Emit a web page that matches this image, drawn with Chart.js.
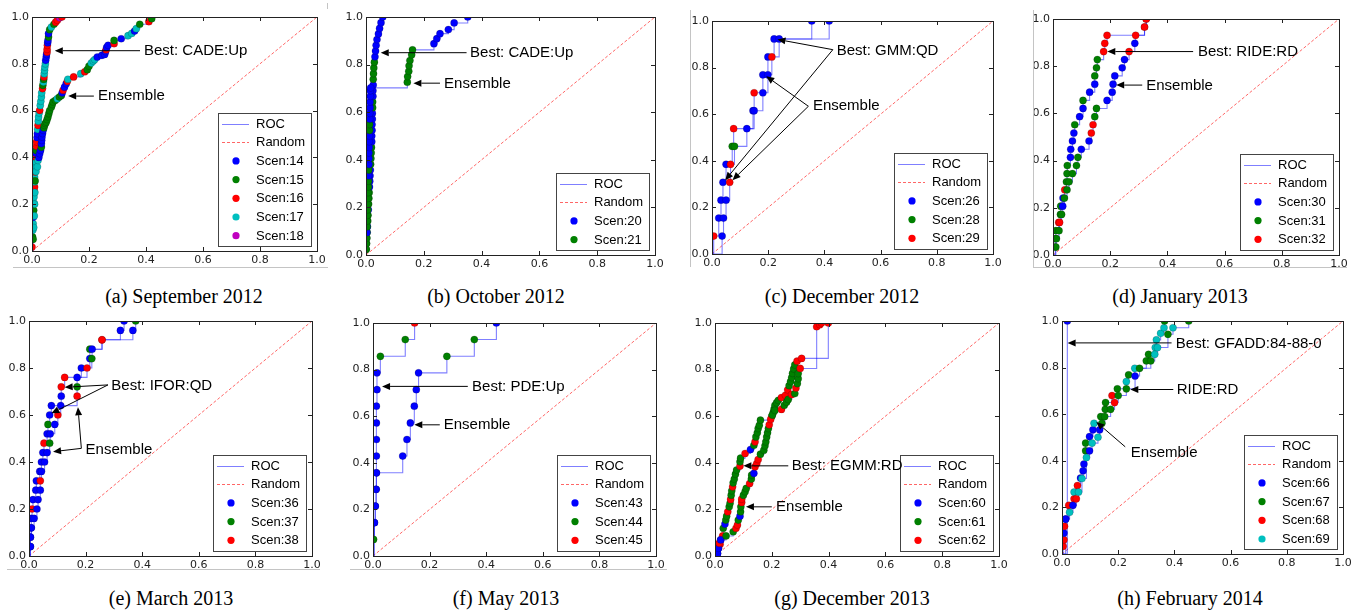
<!DOCTYPE html>
<html>
<head>
<meta charset="utf-8">
<script src="https://cdn.jsdelivr.net/npm/chart.js@4.4.1/dist/chart.umd.min.js"></script>
<style>
    body { margin: 0; background: #fff; }
    #page { position: relative; width: 1359px; height: 610px; overflow: hidden; background: #fff; }
    #page canvas { position: absolute; }
    .cap {
        position: absolute;
        font-family: 'Liberation Serif', 'Times New Roman', serif;
        font-size: 20px;
        color: #000;
        white-space: nowrap;
        transform: translate(-50%, -50%);
    }
    .edge { position: absolute; background: #c4c4c4; }
</style>
</head>
<body>
<div id="page"></div>
<script>
// each point: [false positive rate, true positive rate, scenario index]
var sep2012Scen = ['Scen:14', 'Scen:15', 'Scen:16', 'Scen:17', 'Scen:18'];
var sep2012Best = [
    [0.000, 0.017, 2], [0.002, 0.060, 1], [0.003, 0.090, 3], [0.004, 0.117, 3], [0.005, 0.145, 0],
    [0.006, 0.174, 1], [0.007, 0.205, 3], [0.007, 0.231, 3], [0.008, 0.255, 2], [0.009, 0.273, 2],
    [0.009, 0.295, 3], [0.009, 0.316, 3], [0.010, 0.338, 2], [0.012, 0.359, 3], [0.013, 0.380, 3],
    [0.013, 0.402, 2], [0.014, 0.418, 0], [0.015, 0.430, 1], [0.016, 0.448, 2], [0.016, 0.466, 2],
    [0.018, 0.485, 0], [0.019, 0.501, 0], [0.020, 0.520, 3], [0.021, 0.537, 2], [0.022, 0.555, 3],
    [0.023, 0.573, 3], [0.025, 0.590, 3], [0.027, 0.601, 2], [0.029, 0.622, 3], [0.031, 0.640, 3],
    [0.033, 0.658, 3], [0.034, 0.676, 3], [0.037, 0.694, 2], [0.038, 0.708, 1], [0.040, 0.722, 3],
    [0.041, 0.733, 1], [0.042, 0.744, 2], [0.043, 0.758, 3], [0.044, 0.772, 3], [0.045, 0.786, 3],
    [0.047, 0.800, 3], [0.048, 0.815, 0], [0.050, 0.829, 0], [0.051, 0.840, 0], [0.053, 0.850, 2],
    [0.053, 0.862, 2], [0.054, 0.879, 2], [0.055, 0.890, 0], [0.056, 0.900, 0], [0.058, 0.915, 1],
    [0.058, 0.929, 0], [0.062, 0.946, 1], [0.068, 0.957, 3], [0.077, 0.969, 1], [0.083, 0.978, 2],
    [0.089, 0.986, 2], [0.097, 0.997, 4], [0.105, 1.000, 2]
];
var sep2012Ens = [
    [0.004, 0.050, 1], [0.006, 0.100, 3], [0.008, 0.150, 3], [0.009, 0.200, 3], [0.010, 0.250, 3],
    [0.011, 0.300, 1], [0.014, 0.340, 3], [0.019, 0.360, 3], [0.021, 0.387, 3], [0.024, 0.400, 0],
    [0.027, 0.416, 0], [0.030, 0.430, 0], [0.033, 0.444, 1], [0.033, 0.459, 0], [0.034, 0.473, 0],
    [0.035, 0.487, 0], [0.037, 0.502, 0], [0.039, 0.516, 0], [0.042, 0.527, 1], [0.044, 0.537, 1],
    [0.047, 0.545, 1], [0.050, 0.551, 1], [0.053, 0.562, 1], [0.056, 0.573, 1], [0.059, 0.587, 1],
    [0.062, 0.600, 1], [0.068, 0.615, 1], [0.071, 0.626, 1], [0.074, 0.637, 1], [0.082, 0.644, 1],
    [0.089, 0.651, 3], [0.096, 0.658, 1], [0.103, 0.665, 1], [0.106, 0.676, 0], [0.109, 0.687, 2],
    [0.114, 0.700, 0], [0.120, 0.715, 0], [0.124, 0.725, 2], [0.126, 0.734, 3], [0.146, 0.744, 2],
    [0.171, 0.758, 3], [0.185, 0.766, 2], [0.194, 0.775, 1], [0.200, 0.790, 1], [0.208, 0.803, 3],
    [0.215, 0.812, 3], [0.220, 0.818, 3], [0.229, 0.829, 0], [0.245, 0.836, 0], [0.255, 0.840, 0],
    [0.258, 0.852, 0], [0.260, 0.860, 2], [0.262, 0.870, 0], [0.267, 0.879, 0], [0.288, 0.886, 2],
    [0.288, 0.900, 1], [0.313, 0.907, 0], [0.337, 0.920, 3], [0.350, 0.930, 3], [0.360, 0.940, 0],
    [0.366, 0.950, 3], [0.378, 0.969, 1], [0.410, 0.980, 2], [0.420, 0.993, 1]
];

var oct2012Scen = ['Scen:20', 'Scen:21'];
var oct2012Best = [
    [0.001, 0.024, 1], [0.002, 0.048, 1], [0.003, 0.071, 1], [0.004, 0.095, 1], [0.005, 0.119, 0],
    [0.006, 0.143, 1], [0.007, 0.167, 1], [0.008, 0.190, 0], [0.009, 0.214, 1], [0.010, 0.238, 1],
    [0.011, 0.262, 1], [0.012, 0.286, 0], [0.013, 0.310, 0], [0.014, 0.333, 0], [0.015, 0.357, 0],
    [0.016, 0.381, 1], [0.017, 0.405, 1], [0.018, 0.429, 1], [0.019, 0.452, 1], [0.020, 0.476, 0],
    [0.020, 0.500, 0], [0.021, 0.524, 0], [0.021, 0.548, 0], [0.022, 0.571, 0], [0.022, 0.595, 0],
    [0.023, 0.619, 1], [0.023, 0.643, 1], [0.024, 0.667, 0], [0.024, 0.690, 0], [0.025, 0.714, 0],
    [0.025, 0.738, 1], [0.026, 0.762, 1], [0.027, 0.786, 1], [0.029, 0.810, 1], [0.031, 0.833, 0],
    [0.033, 0.857, 0], [0.035, 0.881, 0], [0.038, 0.905, 0], [0.043, 0.929, 0], [0.047, 0.952, 0],
    [0.052, 0.976, 0], [0.058, 1.000, 0]
];
var oct2012Ens = [
    [0.000, 0.024, 1], [0.001, 0.048, 1], [0.002, 0.071, 1], [0.003, 0.095, 0], [0.004, 0.119, 1],
    [0.004, 0.143, 1], [0.005, 0.167, 1], [0.006, 0.190, 1], [0.006, 0.214, 1], [0.007, 0.238, 1],
    [0.007, 0.262, 1], [0.008, 0.286, 1], [0.008, 0.310, 1], [0.009, 0.333, 0], [0.009, 0.357, 1],
    [0.010, 0.381, 0], [0.010, 0.405, 0], [0.010, 0.429, 0], [0.011, 0.452, 0], [0.011, 0.476, 0],
    [0.012, 0.500, 0], [0.012, 0.524, 1], [0.012, 0.548, 1], [0.013, 0.571, 0], [0.013, 0.595, 0],
    [0.014, 0.619, 0], [0.014, 0.643, 0], [0.015, 0.667, 0], [0.015, 0.690, 0], [0.016, 0.702, 0],
    [0.143, 0.726, 1], [0.144, 0.750, 1], [0.148, 0.772, 1], [0.149, 0.795, 1], [0.152, 0.817, 1],
    [0.158, 0.841, 1], [0.161, 0.862, 1], [0.235, 0.888, 0], [0.245, 0.909, 0], [0.256, 0.930, 0],
    [0.285, 0.947, 0], [0.305, 0.975, 0], [0.352, 1.000, 0]
];

var dec2012Scen = ['Scen:26', 'Scen:28', 'Scen:29'];
var dec2012Best = [
    [0.006, 0.077, 2], [0.024, 0.154, 0], [0.032, 0.231, 0], [0.039, 0.308, 0], [0.050, 0.385, 0],
    [0.072, 0.462, 1], [0.077, 0.538, 2], [0.146, 0.615, 0], [0.150, 0.692, 2], [0.181, 0.769, 0],
    [0.199, 0.846, 0], [0.221, 0.923, 0], [0.355, 1.000, 0]
];
var dec2012Ens = [
    [0.036, 0.077, 0], [0.041, 0.154, 0], [0.050, 0.231, 0], [0.063, 0.308, 2], [0.066, 0.385, 2],
    [0.080, 0.462, 1], [0.124, 0.538, 0], [0.150, 0.615, 0], [0.181, 0.692, 0], [0.199, 0.769, 0],
    [0.213, 0.846, 2], [0.239, 0.923, 0], [0.417, 1.000, 0]
];

var jan2013Scen = ['Scen:30', 'Scen:31', 'Scen:32'];
var jan2013Best = [
    [0.008, 0.034, 1], [0.008, 0.069, 1], [0.010, 0.103, 1], [0.020, 0.138, 2], [0.026, 0.172, 1],
    [0.027, 0.207, 1], [0.035, 0.241, 0], [0.041, 0.276, 2], [0.047, 0.310, 1], [0.049, 0.345, 1],
    [0.050, 0.379, 1], [0.061, 0.414, 0], [0.062, 0.448, 0], [0.068, 0.483, 0], [0.073, 0.517, 0],
    [0.076, 0.552, 1], [0.093, 0.586, 0], [0.105, 0.621, 0], [0.105, 0.655, 1], [0.128, 0.690, 0],
    [0.146, 0.724, 0], [0.146, 0.759, 1], [0.152, 0.793, 1], [0.155, 0.828, 1], [0.177, 0.862, 2],
    [0.181, 0.897, 2], [0.189, 0.931, 2], [0.320, 0.966, 2], [0.326, 1.000, 2]
];
var jan2013Ens = [
    [0.010, 0.034, 1], [0.012, 0.069, 1], [0.021, 0.103, 1], [0.023, 0.138, 2], [0.030, 0.172, 1],
    [0.034, 0.207, 0], [0.040, 0.241, 1], [0.049, 0.276, 1], [0.056, 0.310, 1], [0.068, 0.345, 1],
    [0.082, 0.379, 1], [0.087, 0.414, 1], [0.099, 0.448, 0], [0.126, 0.483, 0], [0.134, 0.517, 2],
    [0.140, 0.552, 2], [0.146, 0.586, 1], [0.152, 0.621, 1], [0.189, 0.655, 0], [0.207, 0.690, 0],
    [0.210, 0.724, 0], [0.216, 0.759, 0], [0.242, 0.793, 0], [0.250, 0.828, 0], [0.266, 0.862, 2],
    [0.286, 0.897, 0], [0.289, 0.931, 2], [0.320, 0.966, 2], [0.326, 1.000, 2]
];

var mar2013Scen = ['Scen:36', 'Scen:37', 'Scen:38'];
var mar2013Best = [
    [0.005, 0.04, 0], [0.005, 0.08, 0], [0.008, 0.12, 0], [0.008, 0.16, 0], [0.011, 0.20, 2],
    [0.014, 0.24, 0], [0.024, 0.28, 0], [0.026, 0.32, 0], [0.038, 0.36, 0], [0.044, 0.40, 0],
    [0.049, 0.44, 0], [0.053, 0.48, 2], [0.064, 0.52, 0], [0.067, 0.56, 1], [0.073, 0.60, 0],
    [0.079, 0.64, 0], [0.114, 0.68, 0], [0.114, 0.72, 2], [0.126, 0.76, 2], [0.185, 0.80, 0],
    [0.215, 0.84, 0], [0.215, 0.88, 1], [0.258, 0.92, 2], [0.323, 0.96, 0], [0.336, 1.00, 0]
];
var mar2013Ens = [
    [0.005, 0.04, 0], [0.005, 0.08, 0], [0.008, 0.12, 0], [0.018, 0.16, 0], [0.028, 0.20, 0],
    [0.032, 0.24, 0], [0.040, 0.28, 0], [0.040, 0.32, 2], [0.044, 0.36, 0], [0.055, 0.40, 0],
    [0.064, 0.44, 0], [0.073, 0.48, 1], [0.075, 0.52, 0], [0.091, 0.56, 0], [0.102, 0.60, 2],
    [0.112, 0.64, 0], [0.170, 0.68, 2], [0.170, 0.72, 1], [0.170, 0.76, 0], [0.205, 0.80, 2],
    [0.222, 0.84, 1], [0.223, 0.88, 0], [0.258, 0.92, 2], [0.367, 0.96, 0], [0.377, 1.00, 1]
];

var may2013Scen = ['Scen:43', 'Scen:44', 'Scen:45'];
var may2013Best = [
    [0.002, 0.071, 1], [0.005, 0.143, 0], [0.008, 0.214, 0], [0.011, 0.286, 0], [0.012, 0.357, 0],
    [0.012, 0.429, 0], [0.012, 0.500, 0], [0.012, 0.571, 0], [0.012, 0.643, 0], [0.014, 0.714, 0],
    [0.014, 0.786, 0], [0.026, 0.857, 1], [0.114, 0.929, 1], [0.147, 1.000, 2]
];
var may2013Ens = [
    [0.005, 0.143, 0], [0.008, 0.214, 0], [0.011, 0.286, 0], [0.012, 0.357, 0], [0.105, 0.429, 0],
    [0.120, 0.500, 0], [0.132, 0.571, 0], [0.146, 0.643, 0], [0.153, 0.714, 0], [0.161, 0.786, 0],
    [0.261, 0.857, 1], [0.358, 0.929, 1], [0.436, 1.000, 0]
];

var dec2013Scen = ['Scen:60', 'Scen:61', 'Scen:62'];
var dec2013Best = [
    [0.009, 0.011, 0], [0.012, 0.033, 0], [0.018, 0.050, 2], [0.020, 0.069, 0], [0.027, 0.086, 2],
    [0.029, 0.119, 1], [0.035, 0.137, 0], [0.038, 0.154, 1], [0.041, 0.171, 1], [0.045, 0.190, 2],
    [0.050, 0.211, 1], [0.053, 0.226, 1], [0.055, 0.243, 2], [0.057, 0.261, 1], [0.059, 0.280, 1],
    [0.062, 0.297, 2], [0.064, 0.314, 1], [0.068, 0.330, 1], [0.072, 0.351, 1], [0.076, 0.369, 1],
    [0.088, 0.386, 2], [0.088, 0.404, 1], [0.090, 0.420, 1], [0.106, 0.440, 2], [0.125, 0.457, 0],
    [0.137, 0.475, 1], [0.141, 0.490, 2], [0.144, 0.511, 1], [0.149, 0.529, 1], [0.152, 0.547, 1],
    [0.156, 0.561, 1], [0.160, 0.583, 1], [0.200, 0.600, 1], [0.205, 0.615, 1], [0.208, 0.630, 1],
    [0.211, 0.647, 1], [0.217, 0.658, 1], [0.223, 0.668, 1], [0.234, 0.680, 2], [0.248, 0.690, 2],
    [0.256, 0.713, 2], [0.261, 0.731, 1], [0.266, 0.749, 1], [0.270, 0.766, 1], [0.273, 0.784, 1],
    [0.277, 0.803, 1], [0.281, 0.820, 1], [0.289, 0.836, 2], [0.305, 0.848, 2], [0.399, 1.000, 2]
];
var dec2013Ens = [
    [0.009, 0.011, 0], [0.012, 0.033, 0], [0.015, 0.055, 2], [0.020, 0.069, 0], [0.039, 0.086, 1],
    [0.064, 0.104, 1], [0.074, 0.119, 2], [0.079, 0.133, 2], [0.082, 0.154, 1], [0.088, 0.171, 0],
    [0.090, 0.190, 1], [0.091, 0.211, 1], [0.094, 0.230, 2], [0.094, 0.244, 2], [0.100, 0.261, 1],
    [0.106, 0.276, 1], [0.110, 0.290, 1], [0.122, 0.311, 2], [0.128, 0.330, 1], [0.129, 0.347, 1],
    [0.137, 0.355, 0], [0.141, 0.383, 2], [0.147, 0.397, 2], [0.152, 0.414, 2], [0.160, 0.437, 1],
    [0.172, 0.454, 1], [0.176, 0.473, 1], [0.179, 0.490, 1], [0.182, 0.511, 1], [0.185, 0.529, 1],
    [0.188, 0.547, 1], [0.191, 0.563, 2], [0.196, 0.586, 2], [0.202, 0.605, 1], [0.211, 0.625, 1],
    [0.234, 0.629, 2], [0.244, 0.647, 1], [0.252, 0.660, 1], [0.258, 0.672, 1], [0.270, 0.693, 2],
    [0.281, 0.697, 1], [0.285, 0.721, 2], [0.290, 0.740, 1], [0.293, 0.761, 1], [0.293, 0.783, 1],
    [0.300, 0.805, 2], [0.358, 0.984, 2], [0.369, 0.993, 2], [0.375, 1.000, 2]
];

var feb2014Scen = ['Scen:66', 'Scen:67', 'Scen:68', 'Scen:69'];
var feb2014Best = [
    [0.019, 1.000, 0]
];
var feb2014Ens = [
    [0.004, 0.033, 2], [0.007, 0.061, 2], [0.007, 0.090, 0], [0.009, 0.119, 2], [0.013, 0.150, 0],
    [0.024, 0.209, 2], [0.043, 0.237, 2], [0.043, 0.266, 3], [0.055, 0.294, 2], [0.066, 0.326, 0],
    [0.075, 0.357, 0], [0.078, 0.386, 0], [0.084, 0.443, 1], [0.084, 0.476, 1], [0.098, 0.504, 0],
    [0.110, 0.533, 0], [0.114, 0.561, 3], [0.138, 0.590, 1], [0.154, 0.621, 1], [0.155, 0.650, 1],
    [0.178, 0.680, 2], [0.197, 0.709, 1], [0.229, 0.740, 3], [0.237, 0.769, 1], [0.259, 0.797, 3],
    [0.300, 0.829, 1], [0.308, 0.857, 1], [0.332, 0.886, 3], [0.336, 0.919, 3], [0.351, 0.947, 3],
    [0.363, 0.971, 3], [0.365, 1.000, 1]
];
var feb2014Ride = [
    [0.013, 0.150, 0], [0.027, 0.179, 3], [0.039, 0.209, 0], [0.051, 0.237, 2], [0.059, 0.266, 3],
    [0.071, 0.324, 3], [0.087, 0.414, 3], [0.098, 0.443, 0], [0.107, 0.476, 3], [0.128, 0.501, 3],
    [0.134, 0.533, 0], [0.142, 0.561, 1], [0.152, 0.590, 1], [0.173, 0.621, 1], [0.187, 0.650, 2],
    [0.200, 0.680, 1], [0.229, 0.709, 1], [0.260, 0.764, 0], [0.276, 0.797, 1], [0.316, 0.829, 1],
    [0.330, 0.857, 3], [0.340, 0.886, 3], [0.377, 0.943, 1], [0.395, 0.971, 3], [0.451, 1.000, 1]
];

var tickValues = [0, 0.2, 0.4, 0.6, 0.8, 1.0];
var chanceLine = [0, 1];

var scenColors = ['#0000ff', '#008000', '#ff0000', '#00bfbf', '#bf00bf'];

// plot area in page pixels: [left, top, right, bottom]; notes are in data units
var panels = [
    {
        area: [32, 17, 317, 251], caption: '(a) September 2012', capX: 184, capY: 296,
        scen: sep2012Scen, curves: [sep2012Best, sep2012Ens],
        notes: [
            { text: 'Best: CADE:Up', x: 0.393, y: 0.856, arrows: [[0.379, 0.856, 0.080, 0.856]] },
            { text: 'Ensemble', x: 0.232, y: 0.662, arrows: [[0.217, 0.662, 0.127, 0.662]] }
        ]
    },
    {
        area: [366, 17, 655, 255], caption: '(b) October 2012', capX: 496, capY: 296,
        scen: oct2012Scen, curves: [oct2012Best, oct2012Ens],
        notes: [
            { text: 'Best: CADE:Up', x: 0.360, y: 0.848, arrows: [[0.348, 0.850, 0.051, 0.850]] },
            { text: 'Ensemble', x: 0.270, y: 0.720, arrows: [[0.256, 0.722, 0.164, 0.722]] }
        ]
    },
    {
        area: [712, 21, 993, 254], caption: '(c) December 2012', capX: 842, capY: 296,
        scen: dec2012Scen, curves: [dec2012Best, dec2012Ens],
        notes: [
            { text: 'Best: GMM:QD', x: 0.444, y: 0.873, arrows: [[0.430, 0.877, 0.233, 0.921], [0.430, 0.877, 0.047, 0.317]] },
            { text: 'Ensemble', x: 0.359, y: 0.634, arrows: [[0.343, 0.634, 0.193, 0.763], [0.343, 0.634, 0.073, 0.317]] }
        ]
    },
    {
        area: [1053, 19, 1339, 255], caption: '(d) January 2013', capX: 1180, capY: 296,
        scen: jan2013Scen, curves: [jan2013Best, jan2013Ens],
        notes: [
            { text: 'Best: RIDE:RD', x: 0.507, y: 0.862, arrows: [[0.490, 0.862, 0.190, 0.862]] },
            { text: 'Ensemble', x: 0.326, y: 0.718, arrows: [[0.312, 0.720, 0.221, 0.720]] }
        ]
    },
    {
        area: [29, 321, 312, 556], caption: '(e) March 2013', capX: 171, capY: 598,
        scen: mar2013Scen, curves: [mar2013Best, mar2013Ens],
        notes: [
            { text: 'Best: IFOR:QD', x: 0.291, y: 0.724, arrows: [[0.279, 0.728, 0.126, 0.718], [0.279, 0.728, 0.079, 0.607]] },
            { text: 'Ensemble', x: 0.200, y: 0.452, arrows: [[0.185, 0.458, 0.173, 0.633], [0.185, 0.458, 0.085, 0.444]] }
        ]
    },
    {
        area: [373, 323, 656, 556], caption: '(f) May 2013', capX: 506, capY: 598,
        scen: may2013Scen, curves: [may2013Best, may2013Ens],
        notes: [
            { text: 'Best: PDE:Up', x: 0.350, y: 0.726, arrows: [[0.335, 0.728, 0.032, 0.728]] },
            { text: 'Ensemble', x: 0.250, y: 0.561, arrows: [[0.236, 0.563, 0.146, 0.563]] }
        ]
    },
    {
        area: [715, 323, 999, 556], caption: '(g) December 2013', capX: 852, capY: 598,
        scen: dec2013Scen, curves: [dec2013Best, dec2013Ens],
        notes: [
            { text: 'Best: EGMM:RD', x: 0.270, y: 0.387, arrows: [[0.258, 0.387, 0.100, 0.387]] },
            { text: 'Ensemble', x: 0.215, y: 0.210, arrows: [[0.200, 0.211, 0.109, 0.211]] }
        ]
    },
    {
        area: [1062, 321, 1343, 554], caption: '(h) February 2014', capX: 1190, capY: 598,
        scen: feb2014Scen, curves: [feb2014Best, feb2014Ens, feb2014Ride],
        notes: [
            { text: 'Best: GFADD:84-88-0', x: 0.405, y: 0.904, arrows: [[0.390, 0.906, 0.020, 0.906]] },
            { text: 'RIDE:RD', x: 0.408, y: 0.704, arrows: [[0.396, 0.706, 0.243, 0.706]] },
            { text: 'Ensemble', x: 0.245, y: 0.434, arrows: [[0.225, 0.460, 0.122, 0.567]] }
        ]
    }
];

// thin grey figure borders from the source page
var edges = [
    [13, 267, 315, 1], [327, 3, 1, 6], [690, 10, 1, 257], [1033, 10, 1, 257],
    [1033, 267, 314, 1], [7, 569, 313, 1], [350, 569, 317, 1]
];

var PAD_LEFT = 30, PAD_TOP = 10, PAD_RIGHT = 12, PAD_BOTTOM = 20;

function drawArrow(ctx, x0, y0, x1, y1) {
    var ang = Math.atan2(y1 - y0, x1 - x0);
    var len = 8, half = 3.5;
    var bx = x1 - len * Math.cos(ang), by = y1 - len * Math.sin(ang);
    ctx.beginPath();
    ctx.moveTo(x0, y0);
    ctx.lineTo(bx, by);
    ctx.stroke();
    ctx.beginPath();
    ctx.moveTo(x1, y1);
    ctx.lineTo(bx + half * Math.sin(ang), by - half * Math.cos(ang));
    ctx.lineTo(bx - half * Math.sin(ang), by + half * Math.cos(ang));
    ctx.closePath();
    ctx.fill();
}

function makeDecor(panel) {
    return {
        id: 'rocDecor',
        afterDatasetsDraw: function (chart) {
            var ctx = chart.ctx, a = chart.chartArea;
            var xs = chart.scales.x, ys = chart.scales.y;
            ctx.save();
            ctx.strokeStyle = '#222';
            ctx.lineWidth = 1;
            ctx.beginPath();
            // matplotlib style inward ticks on all four sides
            xs.ticks.forEach(function (t) {
                var px = Math.round(xs.getPixelForValue(t.value)) + 0.5;
                ctx.moveTo(px, a.bottom);
                ctx.lineTo(px, a.bottom - 4);
                ctx.moveTo(px, a.top);
                ctx.lineTo(px, a.top + 4);
            });
            ys.ticks.forEach(function (t) {
                var py = Math.round(ys.getPixelForValue(t.value)) + 0.5;
                ctx.moveTo(a.left, py);
                ctx.lineTo(a.left + 4, py);
                ctx.moveTo(a.right, py);
                ctx.lineTo(a.right - 4, py);
            });
            ctx.stroke();
            ctx.strokeRect(a.left + 0.5, a.top + 0.5, a.right - a.left, a.bottom - a.top);
            ctx.restore();
        },
        afterDraw: function (chart) {
            var ctx = chart.ctx, a = chart.chartArea;
            var xs = chart.scales.x, ys = chart.scales.y;
            ctx.save();

            // legend box, lower right inside the axes
            var labels = ['ROC', 'Random'].concat(panel.scen);
            var rowH = 18.7, w = 93, h = Math.round(rowH * labels.length + 2);
            var right = a.right - 6, bottom = a.bottom - 5;
            var left = Math.round(right - w), top = Math.round(bottom - h);
            ctx.fillStyle = '#fff';
            ctx.fillRect(left, top, w, h);
            ctx.strokeStyle = '#444';
            ctx.lineWidth = 1;
            ctx.strokeRect(left + 0.5, top + 0.5, w, h);
            ctx.font = '13px "Liberation Sans", Arial, sans-serif';
            ctx.textBaseline = 'middle';
            ctx.textAlign = 'left';
            labels.forEach(function (lab, i) {
                var cy = top + 10.5 + rowH * i;
                var ly = Math.round(cy) + 0.5;
                if (i === 0) {
                    ctx.strokeStyle = 'rgba(0,0,255,0.5)';
                    ctx.setLineDash([]);
                    ctx.beginPath();
                    ctx.moveTo(left + 4, ly);
                    ctx.lineTo(left + 31, ly);
                    ctx.stroke();
                } else if (i === 1) {
                    ctx.strokeStyle = 'rgba(255,0,0,0.6)';
                    ctx.setLineDash([3, 2]);
                    ctx.beginPath();
                    ctx.moveTo(left + 4, ly);
                    ctx.lineTo(left + 31, ly);
                    ctx.stroke();
                    ctx.setLineDash([]);
                } else {
                    ctx.fillStyle = scenColors[i - 2];
                    ctx.beginPath();
                    ctx.arc(left + 18, cy, 3.6, 0, Math.PI * 2);
                    ctx.fill();
                }
                ctx.fillStyle = '#000';
                ctx.fillText(lab, left + 38, cy + 0.5);
            });

            // text annotations with arrows
            ctx.font = '15px "Liberation Sans", Arial, sans-serif';
            ctx.fillStyle = '#000';
            ctx.strokeStyle = '#000';
            ctx.lineWidth = 1;
            panel.notes.forEach(function (n) {
                ctx.fillText(n.text, xs.getPixelForValue(n.x), ys.getPixelForValue(n.y));
                n.arrows.forEach(function (ar) {
                    drawArrow(ctx,
                        xs.getPixelForValue(ar[0]), ys.getPixelForValue(ar[1]),
                        xs.getPixelForValue(ar[2]), ys.getPixelForValue(ar[3]));
                });
            });
            ctx.restore();
        }
    };
}

function axisOptions(isX) {
    return {
        type: 'linear',
        min: 0,
        max: 1,
        afterBuildTicks: function (scale) {
            scale.ticks = tickValues.map(function (v) { return { value: v }; });
        },
        afterFit: function (scale) {
            if (isX) scale.height = PAD_BOTTOM; else scale.width = PAD_LEFT;
        },
        ticks: {
            autoSkip: false,
            maxRotation: 0,
            padding: 3,
            color: '#222',
            font: { family: '"DejaVu Sans", sans-serif', size: 11 },
            callback: function (v) { return Number(v).toFixed(1); }
        },
        grid: { display: false, drawTicks: false },
        border: { display: false }
    };
}

var page = document.getElementById('page');

panels.forEach(function (panel) {
    var plotW = panel.area[2] - panel.area[0];
    var plotH = panel.area[3] - panel.area[1];
    var canvas = document.createElement('canvas');
    canvas.width = plotW + PAD_LEFT + PAD_RIGHT;
    canvas.height = plotH + PAD_TOP + PAD_BOTTOM;
    canvas.style.left = (panel.area[0] - PAD_LEFT) + 'px';
    canvas.style.top = (panel.area[1] - PAD_TOP) + 'px';
    canvas.style.width = canvas.width + 'px';
    canvas.style.height = canvas.height + 'px';
    page.appendChild(canvas);

    var datasets = [{
        data: chanceLine.map(function (v) { return { x: v, y: v }; }),
        showLine: true,
        borderColor: 'rgba(255,0,0,0.6)',
        borderWidth: 1,
        borderDash: [3, 2],
        pointRadius: 0,
        order: 5
    }];

    panel.curves.forEach(function (curve) {
        // ROC curves start at the origin; horizontal run first, then the rise
        var pts = curve.map(function (p) { return { x: p[0], y: p[1] }; });
        datasets.push({
            data: [{ x: 0, y: 0 }].concat(pts),
            showLine: true,
            stepped: 'before',
            borderColor: 'rgba(0,0,255,0.5)',
            borderWidth: 1.1,
            pointRadius: 0,
            clip: 0,
            order: 4
        });
    });
    panel.curves.forEach(function (curve, ci) {
        var cols = curve.map(function (p) { return scenColors[p[2]]; });
        datasets.push({
            data: curve.map(function (p) { return { x: p[0], y: p[1] }; }),
            showLine: false,
            pointRadius: 3.6,
            pointBackgroundColor: cols,
            pointBorderColor: 'rgba(0,0,0,0.35)',
            pointBorderWidth: 0.5,
            clip: 0,
            order: 3 - ci
        });
    });

    new Chart(canvas.getContext('2d'), {
        type: 'scatter',
        data: { datasets: datasets },
        options: {
            responsive: false,
            animation: false,
            devicePixelRatio: 1,
            layout: { padding: { top: PAD_TOP, right: PAD_RIGHT, left: 0, bottom: 0 } },
            scales: { x: axisOptions(true), y: axisOptions(false) },
            plugins: { legend: { display: false }, tooltip: { enabled: false } }
        },
        plugins: [makeDecor(panel)]
    });

    var cap = document.createElement('div');
    cap.className = 'cap';
    cap.textContent = panel.caption;
    cap.style.left = panel.capX + 'px';
    cap.style.top = panel.capY + 'px';
    page.appendChild(cap);
});

edges.forEach(function (e) {
    var d = document.createElement('div');
    d.className = 'edge';
    d.style.left = e[0] + 'px';
    d.style.top = e[1] + 'px';
    d.style.width = e[2] + 'px';
    d.style.height = e[3] + 'px';
    page.appendChild(d);
});
</script>
</body>
</html>
